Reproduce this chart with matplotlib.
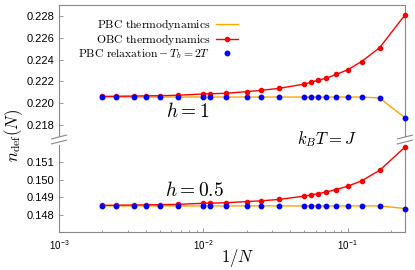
import numpy as np
import matplotlib
matplotlib.use("Agg")
import matplotlib.pyplot as plt

plt.rcParams['mathtext.fontset'] = 'cm'
plt.rcParams['font.family'] = ['Liberation Sans', 'DejaVu Sans']

N = np.array([500, 400, 300, 250, 200, 150, 100, 90, 70, 50, 40, 30, 20, 18, 16, 14, 12, 10, 8, 6, 4])
invN = 1.0 / N

# h = 1
pbc_h1 = [0.22057, 0.22057, 0.22057, 0.22057, 0.22057, 0.22057, 0.22057, 0.22057, 0.22057, 0.22057,
          0.22057, 0.22057, 0.22057, 0.22057, 0.22057, 0.22057, 0.22057, 0.22057, 0.22057, 0.22048, 0.21867]
obc_h1 = [0.22063, 0.22064, 0.22066, 0.22068, 0.22069, 0.22073, 0.22085, 0.22087, 0.22091, 0.22106,
          0.22118, 0.22136, 0.22175, 0.22191, 0.22212, 0.22230, 0.22264, 0.22306, 0.22382, 0.22509, 0.22809]
rel_h1 = pbc_h1

# h = 0.5
pbc_h05 = [0.14850, 0.14850, 0.14850, 0.14850, 0.14850, 0.14850, 0.14850, 0.14850, 0.14850, 0.14850,
           0.14850, 0.14850, 0.14850, 0.14850, 0.14850, 0.14850, 0.14850, 0.14850, 0.14850, 0.14850, 0.14835]
obc_h05 = [0.14853, 0.14854, 0.14855, 0.14856, 0.14857, 0.14859, 0.14865, 0.14866, 0.14868, 0.14875,
           0.14879, 0.14887, 0.14906, 0.14913, 0.14921, 0.14930, 0.14944, 0.14963, 0.14994, 0.15054, 0.15188]
rel_h05 = pbc_h05

orange = '#FFA500'
red = '#FF0000'
blue = '#0000FF'
gray = '#888888'

fig = plt.figure(figsize=(4.15, 2.70), dpi=100)
L, R = 59/415, 405/415
ax1 = fig.add_axes([L, 1-136/270, R-L, 131/270])
ax2 = fig.add_axes([L, 1-232/270, R-L, 87/270])

for ax, pbc, obc, rel in [(ax1, pbc_h1, obc_h1, rel_h1), (ax2, pbc_h05, obc_h05, rel_h05)]:
    ax.plot(invN, pbc, color=orange, lw=1.0, zorder=2, clip_on=False,
            label=r'$\mathrm{PBC\ thermodynamics}$')
    ax.plot(invN, obc, color=red, lw=1.0, marker='o', ms=3, zorder=3, clip_on=False,
            label=r'$\mathrm{OBC\ thermodynamics}$')
    ax.plot(invN, rel, ls='none', marker='o', ms=3.2, color=blue, zorder=4, clip_on=False,
            label=r'$\mathrm{PBC\ relaxation} - T_b = 2T$')
    ax.set_xscale('log')
    ax.set_xlim(1e-3, 0.25)
    for s in ax.spines.values():
        s.set_color(gray)
        s.set_linewidth(0.8)
    ax.tick_params(which='both', direction='in', color=gray, labelsize=8, width=0.6)
    ax.tick_params(which='major', length=3)
    ax.tick_params(which='minor', length=1.5)

ax1.set_ylim(0.217, 0.229)
ax1.set_yticks([0.218, 0.220, 0.222, 0.224, 0.226, 0.228])
ax1.set_yticklabels(['0.218', '0.220', '0.222', '0.224', '0.226', '0.228'])
ax1.spines['bottom'].set_visible(False)
ax1.tick_params(axis='x', which='both', bottom=False, labelbottom=False)

ax2.set_ylim(0.147, 0.152)
ax2.set_yticks([0.148, 0.149, 0.150, 0.151])
ax2.set_yticklabels(['0.148', '0.149', '0.150', '0.151'])
ax2.spines['top'].set_visible(False)
ax2.set_xticks([1e-3, 1e-2, 1e-1])
ax2.set_xticklabels([r'10$^{\mathdefault{-3}}$', r'10$^{\mathdefault{-2}}$', r'10$^{\mathdefault{-1}}$'])
ax2.tick_params(axis='x', labelsize=7, pad=5)

# break marks
for xf in (L, R):
    for yy in (1-137/270, 1-142/270):
        fig.add_artist(plt.Line2D([xf-0.018, xf+0.018], [yy-0.007, yy+0.007],
                                  color=gray, lw=0.8, transform=fig.transFigure))

leg = ax1.legend(loc='upper left', bbox_to_anchor=(0.035, 0.96), frameon=False,
                 markerfirst=False, fontsize=8.4, handlelength=1.9, labelspacing=0.0,
                 handletextpad=0.5, borderaxespad=0.2)

fig.text(0.452, 1-112/270, r'$h=1$', fontsize=14, ha='center', va='center')
fig.text(0.468, 1-190/270, r'$h=0.5$', fontsize=14, ha='center', va='center')
fig.text(0.788, 1-139/270, r'$k_BT=J$', fontsize=12, ha='center', va='center')
fig.text(0.034, 0.50, r'$n_{\rm def}(N)$', fontsize=12, rotation=90, ha='center', va='center')
fig.text(0.573, 1-258/270, r'$1/N$', fontsize=12, ha='center', va='center')

fig.savefig('out.png', dpi=100)
